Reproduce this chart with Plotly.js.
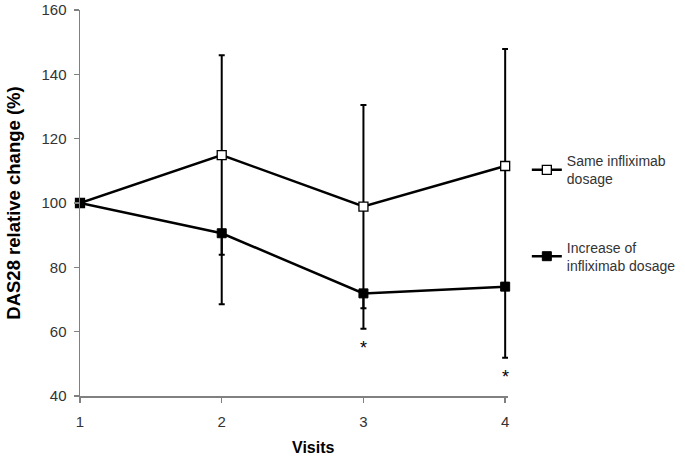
<!DOCTYPE html>
<html>
<head>
<meta charset="utf-8">
<script src="https://cdn.plot.ly/plotly-3.0.1.min.js"></script>
<style>html,body{margin:0;padding:0;background:#fff;}#chart{width:685px;height:463px;}</style>
</head>
<body>
<div id="chart"></div>
<script>
var visits = [1, 2, 3, 4];
var sameDosage = [100, 114.9, 98.9, 111.5];
var sameDosageErr = [0, 31, 31.6, 36.4];
var increaseDosage = [100, 90.6, 71.9, 74.0];
var increaseDosageErrUp = [0, 0, 0, 0];
var increaseDosageErrDown = [0, 22.1, 11, 22.1];
var significantVisits = [3, 4];
var seriesNames = ['Same infliximab<br>dosage', 'Increase of<br>infliximab dosage'];
var yTicks = [40, 60, 80, 100, 120, 140, 160];

var traces = [
  {
    x: visits, y: sameDosage, name: seriesNames[0], legendgroup: 'a',
    type: 'scatter', mode: 'lines+markers', cliponaxis: false,
    line: {color: '#000', width: 2.5},
    marker: {symbol: 'square', size: 9, color: '#fff', line: {color: '#000', width: 1.3}},
    error_y: {type: 'data', array: sameDosageErr, visible: true, color: '#000', thickness: 2, width: 3}
  },
  {
    x: visits, y: increaseDosage, name: seriesNames[1], legendgroup: 'b',
    type: 'scatter', mode: 'lines+markers', cliponaxis: false,
    line: {color: '#000', width: 2.5},
    marker: {symbol: 'square', size: 9, color: '#000', line: {color: '#000', width: 1}},
    error_y: {type: 'data', symmetric: false, array: increaseDosageErrUp, arrayminus: increaseDosageErrDown,
              visible: true, color: '#000', thickness: 2, width: 3}
  }
];

var annotations = significantVisits.map(function (v) {
  var i = visits.indexOf(v);
  return {
    x: v, y: increaseDosage[i] - increaseDosageErrDown[i], xref: 'x', yref: 'y',
    text: '*', showarrow: false, yanchor: 'top', yshift: -7,
    font: {family: 'Liberation Sans, Arial, sans-serif', size: 18, color: '#000'}
  };
});
annotations.push({
  x: 0.545, y: 0, xref: 'paper', yref: 'paper', yanchor: 'middle', yshift: -51,
  text: '<b>Visits</b>', showarrow: false,
  font: {family: 'Liberation Sans, Arial, sans-serif', size: 16, color: '#000'}
});

var layout = {
  width: 685, height: 463,
  margin: {l: 80, r: 177, t: 10, b: 67, autoexpand: false},
  paper_bgcolor: '#fff', plot_bgcolor: '#fff',
  font: {family: 'Liberation Sans, Arial, sans-serif', size: 15, color: '#333'},
  showlegend: true,
  legend: {x: 1.044, y: 0.65, xanchor: 'left', yanchor: 'top', tracegroupgap: 47,
           font: {size: 14, color: '#333'}, itemwidth: 30, bgcolor: 'rgba(0,0,0,0)'},
  xaxis: {
    range: [1, 4.02], tickvals: visits, ticktext: visits.map(String),
    showline: true, linecolor: '#808080', linewidth: 1.5,
    ticks: 'outside', ticklen: 5, tickcolor: '#808080', tickwidth: 1.5,
    showgrid: false, zeroline: false, ticklabelstandoff: 6
  },
  yaxis: {
    range: [40, 160], tickvals: yTicks,
    showline: true, linecolor: '#808080', linewidth: 1.5,
    ticks: 'outside', ticklen: 5, tickcolor: '#808080', tickwidth: 1.5,
    showgrid: false, zeroline: false, ticklabelstandoff: 4,
    title: {text: '<b>DAS28 relative change (%)</b>', font: {size: 18.5, color: '#000'}, standoff: 16}
  },
  annotations: annotations
};

Plotly.newPlot('chart', traces, layout, {displayModeBar: false, staticPlot: true});
</script>
</body>
</html>
